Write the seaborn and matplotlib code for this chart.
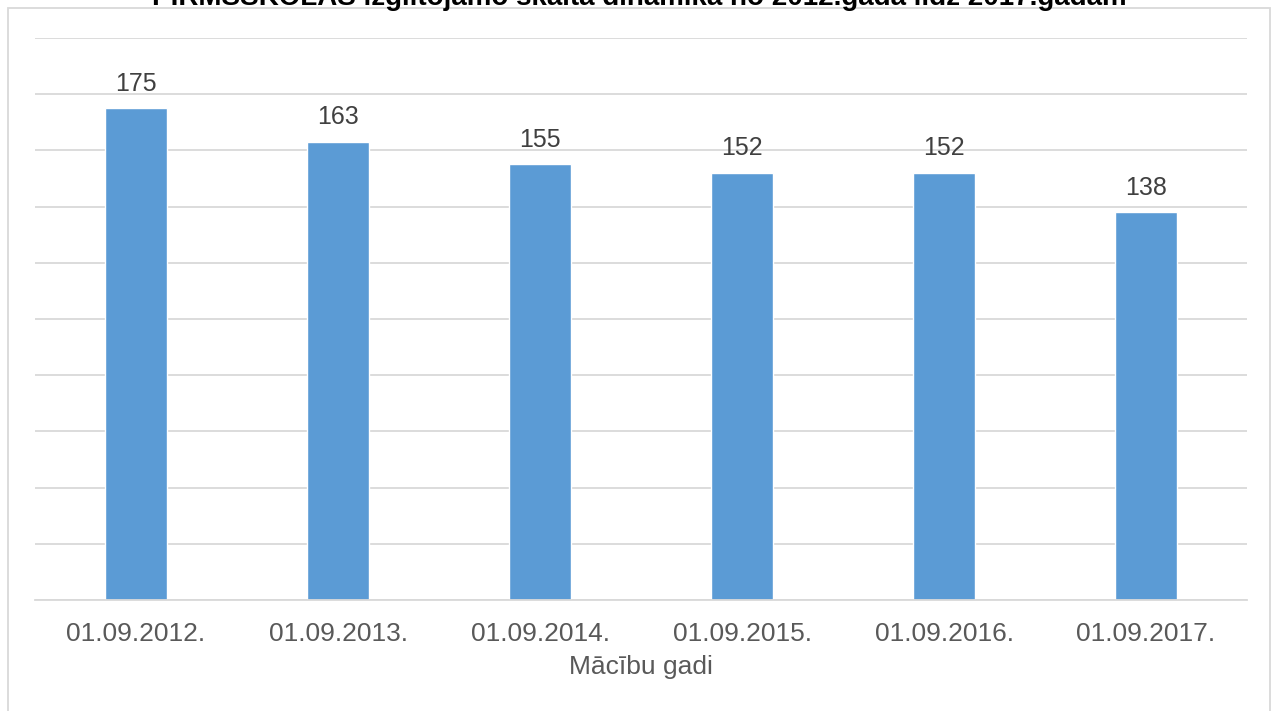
import matplotlib
matplotlib.use("Agg")
import matplotlib.pyplot as plt
import seaborn as sns
import pandas as pd
from matplotlib.patches import Rectangle

# Data
dates = ['01.09.2012.', '01.09.2013.', '01.09.2014.', '01.09.2015.', '01.09.2016.', '01.09.2017.']
counts = [175, 163, 155, 152, 152, 138]
title = 'PIRMSSKOLAS izglītojamo skaita dinamika no 2012.gada līdz 2017.gadam'
xlabel = 'Mācību gadi'

df = pd.DataFrame({'date': dates, 'count': counts})

sns.set_style('white')
plt.rcParams['font.family'] = ['Liberation Sans', 'DejaVu Sans']

text_color = '#595959'
grid_color = '#D9D9D9'

fig = plt.figure(figsize=(12.79, 7.11), dpi=100)
ax = fig.add_axes([35 / 1279, 1 - 600 / 711, (1247 - 35) / 1279, (600 - 38) / 711])

sns.barplot(data=df, x='date', y='count', color='#5B9BD5', width=0.31,
            saturation=1, ax=ax, zorder=3)

ax.set_ylim(0, 200)
ax.set_xlim(-0.5, 5.5)
ax.set_yticks(range(0, 201, 20))
ax.set_yticklabels([])
ax.tick_params(axis='y', length=0)
ax.tick_params(axis='x', length=0, labelsize=19, labelcolor=text_color, pad=16)
ax.grid(axis='y', color=grid_color, linewidth=1.3, zorder=0)
for s in ['top', 'left', 'right']:
    ax.spines[s].set_visible(False)
ax.spines['bottom'].set_color(grid_color)
ax.spines['bottom'].set_linewidth(1.3)
ax.spines['bottom'].set_zorder(4)

for i, v in enumerate(counts):
    ax.annotate(str(v), (i, v), xytext=(0, 9), textcoords='offset points',
                ha='center', va='bottom', fontsize=18, color='#404040')

ax.set_xlabel(xlabel, fontsize=19, color=text_color, labelpad=6)
ax.set_ylabel('')

# outer chart frame
fig.patches.append(Rectangle((8 / 1279, -0.1), (1270 - 8) / 1279, 1.1 - 8 / 711,
                             transform=fig.transFigure, fill=False,
                             edgecolor=grid_color, linewidth=1.3))

fig.text(0.5, 1 + 2 / 711, title, ha='center', va='center', fontsize=20,
         fontweight='bold', color='black')

fig.savefig('out.png', dpi=100)
